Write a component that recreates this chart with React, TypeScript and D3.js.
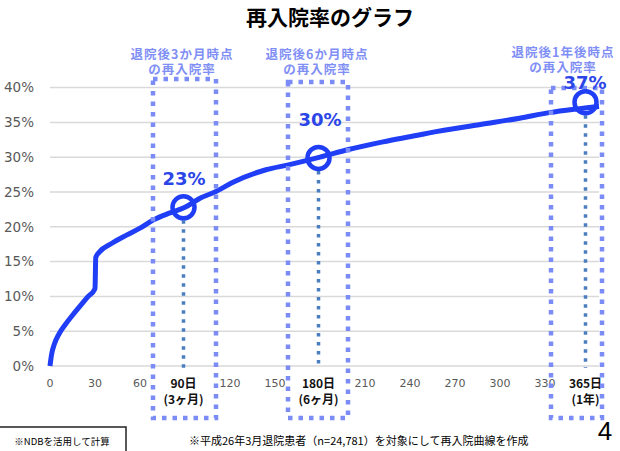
import { useEffect, useRef } from "react";
import * as d3 from "d3";

// readmission curve (days after discharge, % readmitted)
const days = [0, 1, 3, 6, 10, 15, 20, 25, 30, 30.5, 33, 41, 51, 60, 69, 80, 90, 100, 111, 122, 144, 159, 180, 199, 222, 245, 253, 287, 313, 333, 350, 366];
const rates = [0, 1.6, 3.2, 4.6, 5.9, 7.3, 8.6, 9.9, 11.1, 15.6, 16.4, 17.6, 18.8, 19.8, 21.0, 22.0, 22.8, 24.1, 25.1, 26.4, 28.2, 28.9, 30.0, 31.1, 32.2, 33.15, 33.5, 34.7, 35.6, 36.4, 36.9, 37.3];

const yTicks = [0, 5, 10, 15, 20, 25, 30, 35, 40];
// 90, 180 and 360 sit under the bold day labels in the original
const xTicks = [0, 30, 60, 120, 150, 210, 240, 270, 300, 330];

const markerDays = [89, 179, 357];
const markerRates = [22.8, 29.9, 37.9];
const markerLabels = ["23%", "30%", "37%"];
const markerTitles = [
  ["退院後3か月時点", "の再入院率"],
  ["退院後6か月時点", "の再入院率"],
  ["退院後1年後時点", "の再入院率"],
];
const markerAxisLabels = [
  ["90日", "(3ヶ月)"],
  ["180日", "(6ヶ月)"],
  ["365日", "(1年)"],
];

const W = 620;
const H = 451;
const JP = "'Noto Sans CJK JP', 'Noto Sans', sans-serif";
const TICK = "'DejaVu Sans', Verdana, sans-serif";

export default function App() {
  const svgRef = useRef<SVGSVGElement | null>(null);

  useEffect(() => {
    const svg = d3.select(svgRef.current);
    svg.selectAll("*").remove();

    const x = d3.scaleLinear().domain([0, 365]).range([50, 597.5]);
    const y = d3.scaleLinear().domain([0, 40]).range([366, 87.6]);
    const [x0, x1] = [50, 599];

    // title
    svg
      .append("text")
      .attr("x", 330)
      .attr("y", 25)
      .attr("text-anchor", "middle")
      .attr("font-family", JP)
      .attr("font-weight", 700)
      .attr("font-size", 21)
      .text("再入院率のグラフ");

    // gridlines + y labels
    const grid = svg.append("g");
    grid
      .selectAll("line")
      .data(yTicks)
      .join("line")
      .attr("x1", x0)
      .attr("x2", x1)
      .attr("y1", (d) => y(d))
      .attr("y2", (d) => y(d))
      .attr("stroke", "#d9d9d9")
      .attr("stroke-width", 1.5);
    grid
      .selectAll("text")
      .data(yTicks)
      .join("text")
      .attr("x", 34)
      .attr("y", (d) => y(d))
      .attr("dy", "0.36em")
      .attr("text-anchor", "end")
      .attr("font-family", TICK)
      .attr("font-size", 13.5)
      .attr("fill", "#595959")
      .text((d) => `${d}%`);

    // x tick labels
    svg
      .append("g")
      .selectAll("text")
      .data(xTicks)
      .join("text")
      .attr("x", (d) => x(d))
      .attr("y", 387)
      .attr("text-anchor", "middle")
      .attr("font-family", TICK)
      .attr("font-size", 11)
      .attr("fill", "#595959")
      .text((d) => d);

    // bold day labels
    const lab = svg
      .append("g")
      .selectAll("g")
      .data(markerAxisLabels)
      .join("g")
      .attr("transform", (_, i) => `translate(${x(markerDays[i])},0)`);
    lab
      .selectAll("text")
      .data((d) => d)
      .join("text")
      .attr("x", 0)
      .attr("y", (_, j) => 388 + j * 16)
      .attr("text-anchor", "middle")
      .attr("font-family", JP)
      .attr("font-weight", 700)
      .attr("font-size", 12)
      .attr("fill", "#111")
      .text((d) => d);

    // dark dotted drop lines
    svg
      .append("g")
      .selectAll("line")
      .data(markerDays)
      .join("line")
      .attr("x1", (d) => x(d))
      .attr("x2", (d) => x(d))
      .attr("y1", (_, i) => y(markerRates[i]) + 13)
      .attr("y2", 368)
      .attr("stroke", "#4a7ebf")
      .attr("stroke-width", 3.5)
      .attr("stroke-dasharray", "3.5 5.5");

    // curve
    const line = d3
      .line<number>()
      .x((d) => x(d))
      .y((_, i) => y(rates[i]))
      .curve(d3.curveMonotoneX);
    svg
      .append("path")
      .attr("d", line(days))
      .attr("fill", "none")
      .attr("stroke", "#1f3ef5")
      .attr("stroke-width", 5)
      .attr("stroke-linejoin", "round");

    // light dotted boxes
    const boxes = [
      { l: 153, r: 216, t: 79 },
      { l: 288, r: 348, t: 82 },
      { l: 551, r: 602, t: 88 },
    ];
    const bottom = 418;
    const bg = svg.append("g");
    boxes.forEach((b) => {
      bg.append("path")
        .attr("d", `M${b.l},${b.t}H${b.r}V${bottom}H${b.l}Z`)
        .attr("fill", "none")
        .attr("stroke", "#7b8cf7")
        .attr("stroke-width", 4.5)
        .attr("stroke-dasharray", "4.5 6");
    });

    // circles
    svg
      .append("g")
      .selectAll("circle")
      .data(markerDays)
      .join("circle")
      .attr("cx", (d) => x(d))
      .attr("cy", (_, i) => y(markerRates[i]))
      .attr("r", 11)
      .attr("fill", "none")
      .attr("stroke", "#1f3ef5")
      .attr("stroke-width", 4.5);

    // value labels
    const labelPos = [
      { cx: 184, cy: 179 },
      { cx: 320, cy: 120 },
      { cx: 585, cy: 83 },
    ];
    svg
      .append("g")
      .selectAll("text")
      .data(markerLabels)
      .join("text")
      .attr("x", (_, i) => labelPos[i].cx)
      .attr("y", (_, i) => labelPos[i].cy)
      .attr("dy", "0.36em")
      .attr("text-anchor", "middle")
      .attr("font-family", TICK)
      .attr("font-weight", 700)
      .attr("font-size", 18)
      .attr("fill", "#2b45e8")
      .text((d) => d);

    // annotations above boxes
    const notePos = [
      { cx: 182, y: 54 },
      { cx: 317, y: 54 },
      { cx: 563, y: 52 },
    ];
    const notes = svg
      .append("g")
      .selectAll("g")
      .data(markerTitles)
      .join("g");
    notes
      .selectAll("text")
      .data((d, i) => d.map((t) => ({ t, i })))
      .join("text")
      .attr("x", (d) => notePos[d.i].cx)
      .attr("y", (d, j) => notePos[d.i].y + j * 15.5)
      .attr("dy", "0.36em")
      .attr("text-anchor", "middle")
      .attr("font-family", JP)
      .attr("font-weight", 700)
      .attr("font-size", 12.5)
      .attr("letter-spacing", 1)
      .attr("fill", "#7f8ff5")
      .text((d) => d.t);

    // footnotes
    svg
      .append("rect")
      .attr("x", -2)
      .attr("y", 427)
      .attr("width", 128)
      .attr("height", 40)
      .attr("fill", "none")
      .attr("stroke", "#222")
      .attr("stroke-width", 1.5);
    svg
      .append("text")
      .attr("x", 62)
      .attr("y", 445)
      .attr("text-anchor", "middle")
      .attr("font-family", JP)
      .attr("font-size", 9.5)
      .text("※NDBを活用して計算");
    svg
      .append("text")
      .attr("x", 189)
      .attr("y", 445)
      .attr("font-family", JP)
      .attr("font-size", 11)
      .text("※平成26年3月退院患者（n=24,781）を対象にして再入院曲線を作成");
    svg
      .append("text")
      .attr("x", 605)
      .attr("y", 440)
      .attr("text-anchor", "middle")
      .attr("font-family", "'Liberation Sans', Arial, sans-serif")
      .attr("font-size", 26)
      .text("4");
  }, []);

  return (
    <svg
      ref={svgRef}
      width={W}
      height={H}
      style={{ position: "absolute", left: 0, top: 0, background: "#fff" }}
    />
  );
}
